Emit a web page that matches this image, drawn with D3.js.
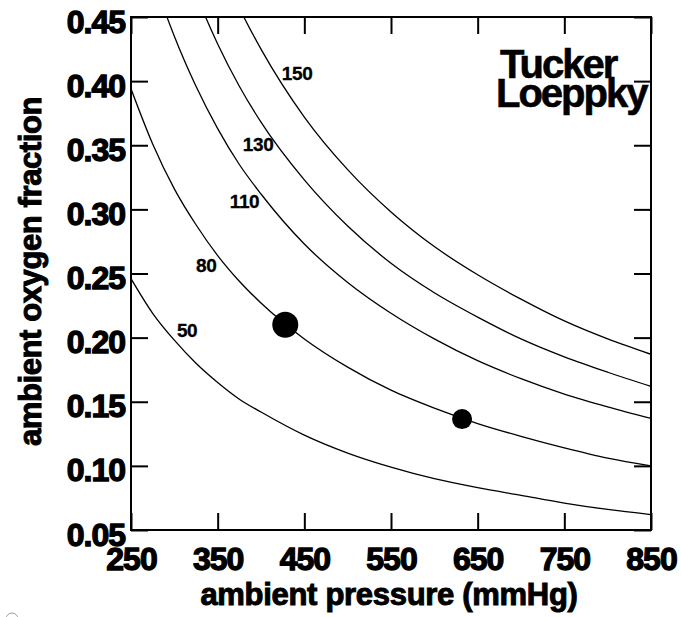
<!DOCTYPE html>
<html>
<head>
<meta charset="utf-8">
<script src="https://cdn.jsdelivr.net/npm/d3@7"></script>
<style>
  body { margin: 0; background: #fff; }
  svg { display: block; }
  text { font-family: "Liberation Sans", Arial, sans-serif; font-weight: bold; }
</style>
</head>
<body>
<svg width="681" height="617"></svg>
<script>
const pressures = [250, 275, 300, 325, 350, 375, 400, 450, 500, 550, 600, 650, 700, 750, 800, 850];

// oxygen fraction along each inspired-PO2 isopleth
const curve50 = [0.246, 0.219, 0.198, 0.180, 0.165, 0.152, 0.142, 0.124, 0.110, 0.099, 0.090, 0.083, 0.077, 0.071, 0.066, 0.062];
const curve80 = [0.394, 0.351, 0.316, 0.288, 0.264, 0.244, 0.227, 0.199, 0.177, 0.159, 0.145, 0.133, 0.123, 0.114, 0.106, 0.100];
const curve110 = [0.542, 0.482, 0.435, 0.396, 0.363, 0.335, 0.312, 0.273, 0.243, 0.219, 0.199, 0.182, 0.168, 0.156, 0.146, 0.137];
const curve130 = [0.640, 0.570, 0.514, 0.468, 0.429, 0.396, 0.368, 0.323, 0.287, 0.258, 0.235, 0.216, 0.199, 0.185, 0.173, 0.162];
const curve150 = [0.739, 0.658, 0.593, 0.540, 0.495, 0.457, 0.425, 0.372, 0.331, 0.298, 0.271, 0.249, 0.230, 0.213, 0.199, 0.187];

const curveNames = ["50", "80", "110", "130", "150"];
const curveValues = [curve50, curve80, curve110, curve130, curve150];

// where the curve labels sit (pressure, fraction)
const labelPressure = [303, 325, 364, 379, 424];
const labelFraction = [0.2005, 0.251, 0.301, 0.3455, 0.401];

// the two measured points
const pointPressure = [428, 632];
const pointFraction = [0.210, 0.1365];
const pointSize = [13, 10];

const xTicks = [250, 350, 450, 550, 650, 750, 850];
const yTicks = [0.05, 0.10, 0.15, 0.20, 0.25, 0.30, 0.35, 0.40, 0.45];

const margin = { left: 131, top: 17, right: 30, bottom: 87 };
const width = 681 - margin.left - margin.right;
const height = 617 - margin.top - margin.bottom;

const svg = d3.select("svg");
const g = svg.append("g").attr("transform", `translate(${margin.left},${margin.top})`);

const x = d3.scaleLinear().domain([250, 850]).range([0, width]);
const y = d3.scaleLinear().domain([0.05, 0.45]).range([height, 0]);

g.append("clipPath").attr("id", "plot-clip")
  .append("rect").attr("width", width).attr("height", height);

// isopleths
const line = d3.line()
  .x((d) => x(d[0]))
  .y((d) => y(d[1]))
  .curve(d3.curveMonotoneX);

g.append("g")
  .attr("clip-path", "url(#plot-clip)")
  .selectAll("path")
  .data(curveValues)
  .join("path")
  .attr("d", (vals) => line(pressures.map((p, i) => [p, vals[i]])))
  .attr("fill", "none")
  .attr("stroke", "#000")
  .attr("stroke-width", 1.3);

// curve labels
g.append("g")
  .selectAll("text")
  .data(curveNames)
  .join("text")
  .attr("x", (d, i) => x(labelPressure[i]))
  .attr("y", (d, i) => y(labelFraction[i]))
  .attr("font-size", 19)
  .attr("letter-spacing", -0.4)
  .attr("stroke", "#000").attr("stroke-width", 0.3)
  .text((d) => d);

// points
g.append("g")
  .selectAll("circle")
  .data(pointPressure)
  .join("circle")
  .attr("cx", (d) => x(d))
  .attr("cy", (d, i) => y(pointFraction[i]))
  .attr("r", (d, i) => pointSize[i])
  .attr("fill", "#000");

// axes, ticks pointing inward on all four sides
const tickLen = 17;
const styleAxis = (sel) => {
  sel.select(".domain").remove();
  sel.selectAll(".tick line").attr("stroke", "#000").attr("stroke-width", 2);
};

g.append("g")
  .attr("transform", `translate(0,${height})`)
  .call(d3.axisBottom(x).tickValues(xTicks).tickSize(-tickLen).tickPadding(17).tickFormat(d3.format("d")))
  .call(styleAxis)
  .call((a) => a.selectAll("text")
    .attr("font-size", 32).attr("fill", "#000")
    .attr("stroke", "#000").attr("stroke-width", 1.3)
    .attr("letter-spacing", -1)
    .attr("dy", "0.71em"));

g.append("g")
  .call(d3.axisLeft(y).tickValues(yTicks).tickSize(-tickLen).tickPadding(6).tickFormat(d3.format(".2f")))
  .call(styleAxis)
  .call((a) => a.selectAll("text")
    .attr("font-size", 32).attr("fill", "#000")
    .attr("stroke", "#000").attr("stroke-width", 1.3)
    .attr("letter-spacing", -1)
    .attr("dy", "0.47em"));

g.append("g")
  .call(d3.axisTop(x).tickValues(xTicks).tickSize(-tickLen).tickFormat(""))
  .call(styleAxis);

g.append("g")
  .attr("transform", `translate(${width},0)`)
  .call(d3.axisRight(y).tickValues(yTicks).tickSize(-tickLen).tickFormat(""))
  .call(styleAxis);

// frame
g.append("rect")
  .attr("width", width)
  .attr("height", height)
  .attr("fill", "none")
  .attr("stroke", "#000")
  .attr("stroke-width", 2);

// axis titles
svg.append("text")
  .attr("x", 389)
  .attr("y", 605)
  .attr("text-anchor", "middle")
  .attr("font-size", 31)
  .attr("letter-spacing", -0.3)
  .attr("stroke", "#000").attr("stroke-width", 1)
  .text("ambient pressure (mmHg)");

svg.append("text")
  .attr("transform", `translate(41,${margin.top + height / 2 - 2}) rotate(-90)`)
  .attr("text-anchor", "middle")
  .attr("font-size", 31)
  .attr("letter-spacing", -0.4)
  .attr("stroke", "#000").attr("stroke-width", 1)
  .text("ambient oxygen fraction");

// authors, one text block with two lines
const authors = svg.append("text")
  .attr("font-size", 40).attr("letter-spacing", -2)
  .attr("stroke", "#000").attr("stroke-width", 0.6);
authors.append("tspan").attr("x", 500).attr("y", 78).text("Tucker");
authors.append("tspan").attr("x", 496).attr("y", 107).text("Loeppky");

// stray mark in the lower-left corner
svg.append("circle")
  .attr("cx", 12).attr("cy", 619).attr("r", 6)
  .attr("fill", "none").attr("stroke", "#999").attr("stroke-width", 1);
</script>
</body>
</html>
